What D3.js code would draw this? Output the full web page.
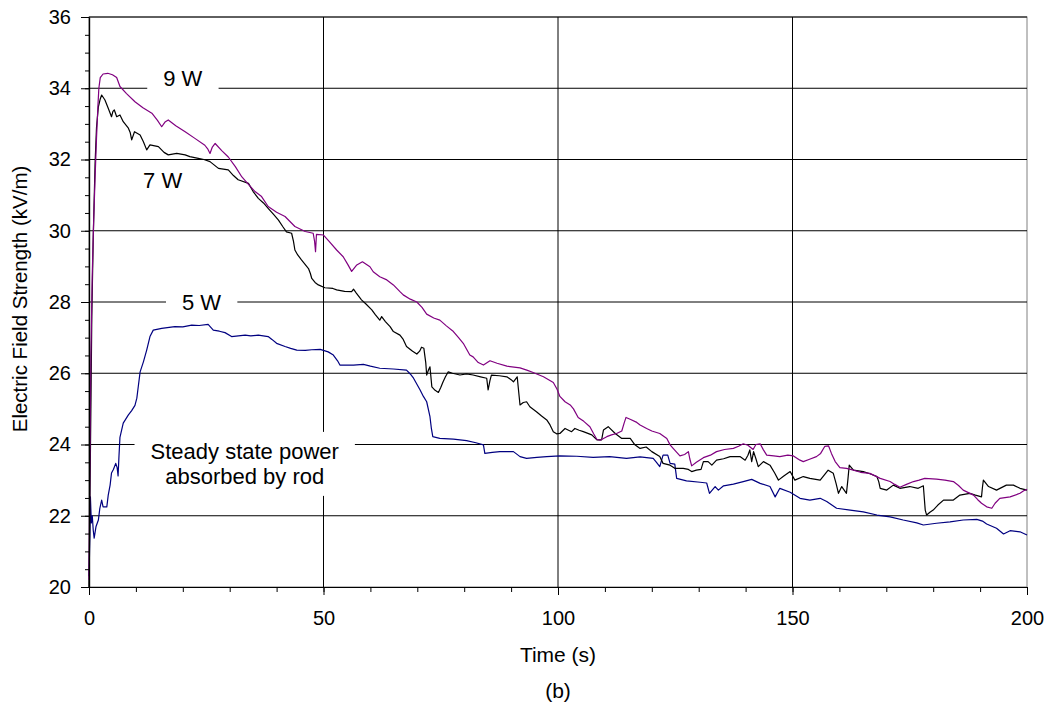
<!DOCTYPE html>
<html><head><meta charset="utf-8">
<script src="https://cdn.jsdelivr.net/npm/d3@7"></script>
<style>
html,body{margin:0;padding:0;background:#fff;}
svg{display:block;font-family:"Liberation Sans",Arial,sans-serif;}
</style></head>
<body>
<svg id="chart" width="1052" height="708"></svg>
<script>
// ---------------- data ----------------
const xTicks = [0, 50, 100, 150, 200];
const xMinor = d3.range(0, 201, 10);
const yTicks = [20, 22, 24, 26, 28, 30, 32, 34, 36];
const yMinor = d3.range(20, 36.01, 0.5);
const xGrid = [50, 100, 150];
const yGrid = [22, 24, 26, 28, 30, 32, 34, 36];

const series9W = [[0,20.2],[0.2,23.5],[0.4,26.5],[0.7,28.8],[1.0,30.3],[1.3,31.5],[1.6,32.6],[1.9,33.5],[2.1,34.0],[2.4,34.3],[3.0,34.4],[4.0,34.42],[5.0,34.38],[5.9,34.3],[6.6,34.05],[8.0,33.85],[9.8,33.62],[11.5,33.45],[13.4,33.3],[14.6,33.1],[15.5,32.92],[16.2,33.05],[16.9,33.11],[18.5,32.95],[20.5,32.78],[22.5,32.6],[24.7,32.4],[25.3,32.3],[25.8,32.17],[26.3,32.35],[26.9,32.45],[28.3,32.25],[29.7,32.07],[31.2,31.8],[32.6,31.51],[34.0,31.3],[35.4,31.1],[36.8,30.96],[38.2,30.68],[40.0,30.52],[41.8,30.4],[43.9,30.12],[46.1,29.98],[47.8,29.93],[48.1,29.7],[48.3,29.41],[48.5,29.9],[50.0,29.88],[51.2,29.7],[52.8,29.46],[54.2,29.27],[55.2,29.05],[56.0,28.86],[57.1,29.04],[58.3,29.13],[59.9,28.99],[60.6,28.85],[62.0,28.71],[63.5,28.62],[64.9,28.48],[66.3,28.29],[67.0,28.2],[68.5,28.08],[69.9,28.0],[71.0,27.85],[72.0,27.66],[73.5,27.55],[74.8,27.49],[76.2,27.33],[77.7,27.17],[78.8,27.0],[79.8,26.84],[81.2,26.51],[81.9,26.46],[83.0,26.3],[84.1,26.23],[85.5,26.35],[87.0,26.28],[89.1,26.2],[91.9,26.15],[93.5,26.08],[94.7,26.02],[96.9,25.9],[98.0,25.82],[99.0,25.74],[99.8,25.55],[100.4,25.35],[101.5,25.2],[102.6,25.11],[103.3,25.0],[104.3,24.76],[105.5,24.65],[106.8,24.5],[107.6,24.3],[108.3,24.14],[109.0,24.12],[110.4,24.22],[111.4,24.27],[112.5,24.31],[113.6,24.38],[114.1,24.6],[114.5,24.76],[115.5,24.7],[116.8,24.62],[117.5,24.55],[118.9,24.45],[120.0,24.38],[121.7,24.31],[123.2,24.17],[123.9,23.99],[124.5,23.9],[126.0,23.68],[127.0,23.72],[127.8,23.8],[128.1,23.6],[128.5,23.4],[129.5,23.5],[131.0,23.63],[132.5,23.7],[133.8,23.8],[135.5,23.86],[137.4,23.89],[138.5,23.95],[139.5,24.02],[140.5,23.98],[141.6,23.86],[142.2,24.0],[143.1,24.02],[143.8,23.85],[144.5,23.7],[146.0,23.68],[147.3,23.66],[149.0,23.7],[150.2,23.68],[151.6,23.56],[152.3,23.52],[153.5,23.58],[155.1,23.66],[156.0,23.75],[156.9,23.95],[157.7,23.96],[158.3,23.75],[159.1,23.52],[160.1,23.35],[161.5,23.33],[163.0,23.28],[164.5,23.22],[166.5,23.19],[168.7,23.05],[170.8,22.96],[171.8,22.88],[172.9,22.8],[174.3,22.88],[175.8,22.96],[177.0,23.0],[178.2,23.05],[180.7,23.03],[182.5,23.0],[184.3,22.96],[185.4,22.85],[186.4,22.72],[187.5,22.65],[188.6,22.58],[189.5,22.45],[190.3,22.35],[191.4,22.25],[192.5,22.21],[193.2,22.35],[194.2,22.49],[196.4,22.53],[198.5,22.63],[199.3,22.7],[200,22.74]];

const series7W = [[0,20.0],[0.2,22.5],[0.4,25.0],[0.6,27.6],[0.9,29.8],[1.3,31.9],[1.6,32.9],[2.0,33.48],[2.4,33.7],[2.7,33.81],[3.4,33.67],[4.1,33.44],[4.8,33.2],[5.1,33.35],[5.4,33.39],[5.9,33.2],[6.6,33.25],[7.3,33.06],[8.4,32.88],[8.8,32.75],[9.1,32.55],[9.7,32.78],[10.9,32.69],[11.6,32.5],[12.3,32.27],[13.0,32.41],[14.8,32.36],[16.0,32.2],[16.9,32.13],[18.7,32.17],[20.5,32.13],[21.5,32.08],[23.3,32.03],[24.5,32.0],[25.8,31.94],[27.6,31.75],[29.7,31.71],[30.8,31.55],[31.8,31.43],[34.0,31.33],[35.0,31.1],[36.1,30.91],[37.2,30.78],[38.2,30.63],[39.4,30.45],[40.4,30.3],[41.3,30.12],[42.1,29.97],[43.2,29.93],[43.6,29.7],[43.9,29.46],[44.5,29.32],[45.3,29.18],[46.8,28.94],[47.2,28.8],[47.5,28.66],[48.2,28.55],[48.9,28.48],[50.3,28.4],[52.0,28.38],[52.8,28.34],[54.5,28.3],[56.0,28.29],[56.4,28.36],[57.0,28.25],[58.1,28.06],[59.0,27.95],[60.3,27.78],[61.0,27.65],[62.0,27.49],[62.4,27.59],[63.2,27.45],[64.2,27.31],[64.9,27.17],[66.3,27.07],[67.0,26.95],[67.7,26.75],[69.0,26.62],[69.9,26.54],[70.5,26.62],[70.9,26.73],[71.4,26.7],[71.8,26.3],[72.0,25.95],[72.4,26.1],[72.7,26.18],[73.1,25.62],[73.8,25.52],[74.5,25.46],[75.0,25.6],[75.5,25.76],[76.0,25.9],[76.6,26.04],[77.5,26.0],[79.1,25.95],[80.5,25.98],[81.9,25.95],[83.5,25.9],[84.8,25.86],[85.1,25.53],[85.5,25.8],[85.8,25.95],[87.5,25.93],[89.1,25.9],[90.0,25.82],[90.5,25.76],[91.3,25.9],[91.6,25.5],[91.9,25.11],[92.6,25.18],[93.3,25.2],[94.0,25.06],[95.4,24.92],[96.5,24.8],[97.6,24.69],[98.3,24.55],[99.0,24.36],[99.7,24.3],[100.4,24.31],[101.5,24.45],[102.9,24.36],[103.6,24.45],[104.5,24.4],[105.4,24.36],[107.2,24.27],[108.3,24.13],[109.3,24.13],[109.7,24.41],[110.7,24.5],[112.2,24.31],[113.6,24.17],[115.4,24.17],[116.4,23.99],[117.5,23.89],[118.8,23.93],[120.0,23.8],[121.7,23.66],[122.4,23.47],[123.9,23.42],[124.9,23.33],[126.7,23.33],[127.8,23.3],[128.5,23.24],[129.5,23.28],[130.5,23.3],[131.0,23.52],[132.0,23.52],[132.8,23.42],[133.8,23.56],[135.3,23.6],[136.7,23.66],[138.8,23.66],[139.9,23.56],[140.5,23.7],[140.9,23.85],[141.3,23.52],[141.7,23.8],[142.2,23.6],[142.7,23.38],[143.8,23.52],[145.2,23.42],[146.2,23.2],[147.0,23.0],[148.0,23.1],[149.5,23.24],[150.5,23.0],[152.3,23.1],[153.7,23.05],[155.9,23.0],[156.8,23.15],[157.6,23.28],[158.7,23.19],[159.3,22.9],[159.8,22.63],[160.5,22.82],[161.5,22.63],[161.8,23.0],[162.1,23.42],[163.0,23.28],[165.1,23.24],[166.5,23.18],[168.0,23.1],[168.4,22.95],[168.7,22.77],[170.1,22.72],[171.5,22.86],[172.9,22.77],[175.0,22.82],[176.8,22.77],[177.9,22.84],[178.1,22.5],[178.3,22.16],[178.6,22.02],[179.3,22.1],[180.0,22.16],[181.0,22.3],[182.2,22.44],[184.3,22.44],[185.7,22.58],[187.8,22.63],[189.0,22.58],[190.3,22.53],[190.5,22.8],[190.7,23.0],[191.8,22.82],[193.5,22.72],[195.6,22.86],[197.1,22.86],[198.5,22.77],[200,22.72]];

const series5W = [[0,20.3],[0.2,21.5],[0.3,22.53],[0.5,21.8],[0.7,22.0],[0.9,21.6],[1.1,21.37],[1.5,21.7],[2.0,21.88],[2.3,22.2],[2.7,22.44],[3.0,22.25],[3.8,22.25],[4.1,22.58],[4.5,22.86],[4.8,23.2],[5.2,23.3],[5.7,23.47],[6.0,23.35],[6.2,23.12],[6.4,23.7],[6.6,24.2],[7.3,24.6],[8.4,24.83],[9.1,24.95],[9.8,25.1],[10.2,25.3],[10.5,25.62],[10.9,26.04],[11.6,26.32],[12.3,26.65],[13.0,27.03],[13.7,27.21],[15.5,27.26],[18.3,27.31],[20.0,27.3],[21.9,27.35],[23.5,27.34],[25.4,27.37],[26.5,27.21],[27.8,27.18],[29.0,27.14],[30.4,27.03],[33.3,27.07],[34.5,27.05],[36.1,27.07],[38.2,27.03],[39.0,26.95],[40.0,26.84],[41.8,26.75],[43.0,26.7],[44.3,26.65],[46.1,26.64],[47.5,26.66],[49.3,26.67],[51.0,26.6],[52.1,26.51],[53.0,26.35],[53.5,26.23],[56.4,26.23],[58.5,26.25],[60.0,26.2],[62.0,26.14],[64.9,26.12],[67.7,26.09],[68.5,25.98],[69.2,25.86],[70.6,25.53],[71.3,25.35],[72.0,25.2],[72.7,24.78],[73.0,24.45],[73.3,24.22],[74.8,24.17],[77.7,24.15],[80.5,24.11],[82.5,24.05],[84.1,23.99],[84.4,23.75],[86.0,23.78],[87.6,23.8],[90.5,23.8],[91.9,23.66],[93.3,23.61],[95.5,23.64],[97.6,23.66],[100.4,23.68],[104.0,23.67],[107.5,23.64],[111.0,23.66],[114.6,23.61],[117.5,23.65],[120.3,23.61],[121.0,23.5],[121.7,23.38],[122.4,23.7],[123.4,23.7],[123.9,23.47],[124.9,23.45],[125.3,23.05],[127.4,22.98],[130.3,22.94],[131.7,22.92],[132.3,22.63],[133.5,22.82],[134.2,22.72],[135.3,22.84],[137.4,22.89],[139.5,22.96],[141.3,23.02],[143.1,22.91],[145.2,22.82],[146.3,22.53],[147.3,22.77],[149.5,22.66],[151.6,22.49],[153.7,22.44],[155.9,22.49],[157.3,22.4],[159.4,22.21],[162.3,22.16],[165.1,22.11],[168.0,22.02],[170.8,21.97],[173.6,21.88],[176.5,21.8],[177.9,21.74],[180.7,21.79],[183.6,21.83],[186.4,21.88],[189.3,21.9],[190.5,21.85],[191.4,21.77],[193.5,21.65],[195.0,21.49],[196.4,21.58],[198.5,21.55],[200,21.46]];

const seriesList = [
  {name: "5 W", data: series5W, color: "#000080"},
  {name: "7 W", data: series7W, color: "#000000"},
  {name: "9 W", data: series9W, color: "#800080"}
];

const labels = [
  {text: ["9 W"], t: 20.0, v: 34.29, box: true},
  {text: ["7 W"], t: 15.7, v: 31.42, box: false},
  {text: ["5 W"], t: 24.0, v: 28, box: true},
  {text: ["Steady state power", "absorbed by rod"], t: 33.2, v: 23.47, box: true}
];

// ---------------- chart ----------------
(function () {
const svg = d3.select("#chart");
const pL = 89, pR = 1027, pT = 17, pB = 587;
const x = d3.scaleLinear().domain([0, 200]).range([pL, pR]);
const y = d3.scaleLinear().domain([20, 36]).range([pB, pT]);
const font = '"Liberation Sans", Arial, sans-serif';

svg.append("rect").attr("x", pL).attr("y", pT)
  .attr("width", pR - pL).attr("height", pB - pT)
  .attr("fill", "none").attr("stroke", "#808080").attr("stroke-width", 1);

svg.append("g").selectAll("line").data(yGrid).join("line")
  .attr("x1", pL).attr("x2", pR)
  .attr("y1", d => y(d)).attr("y2", d => y(d))
  .attr("stroke", "#000").attr("stroke-width", 1);
svg.append("g").selectAll("line").data(xGrid).join("line")
  .attr("x1", d => x(d)).attr("x2", d => x(d))
  .attr("y1", pT).attr("y2", pB)
  .attr("stroke", "#000").attr("stroke-width", 1);

const line = d3.line().x(d => x(d[0])).y(d => y(d[1]));
svg.append("g").selectAll("path").data(seriesList).join("path")
  .attr("d", d => line(d.data))
  .attr("fill", "none")
  .attr("stroke", d => d.color)
  .attr("stroke-width", 1.2)
  .attr("stroke-linejoin", "round");

const yAxis = svg.append("g").attr("transform", `translate(${pL},0)`)
  .call(d3.axisLeft(y).tickValues(yTicks).tickSize(8).tickSizeOuter(0).tickPadding(10));
const yAxisMinor = svg.append("g").attr("transform", `translate(${pL},0)`)
  .call(d3.axisLeft(y).tickValues(yMinor).tickSize(4).tickSizeOuter(0).tickFormat(""));
const xAxis = svg.append("g").attr("transform", `translate(0,${pB})`)
  .call(d3.axisBottom(x).tickValues(xTicks).tickSize(8).tickSizeOuter(0).tickPadding(16));
const xAxisMinor = svg.append("g").attr("transform", `translate(0,${pB})`)
  .call(d3.axisBottom(x).tickValues(xMinor).tickSize(5).tickSizeOuter(0).tickFormat(""));

[yAxis, yAxisMinor, xAxis, xAxisMinor].forEach(g => {
  g.selectAll("path.domain").attr("stroke", "#000").attr("stroke-width", 1.2);
  g.selectAll(".tick line").attr("stroke", "#000").attr("stroke-width", 1);
  g.selectAll(".tick text").attr("font-family", font).attr("font-size", 20).attr("fill", "#000");
});

svg.append("text").attr("x", (pL + pR) / 2).attr("y", 662)
  .attr("text-anchor", "middle").attr("font-family", font).attr("font-size", 21)
  .text("Time (s)");
svg.append("text").attr("x", (pL + pR) / 2).attr("y", 698)
  .attr("text-anchor", "middle").attr("font-family", font).attr("font-size", 21)
  .text("(b)");
svg.append("text")
  .attr("transform", `translate(27,${(163 + 435) / 2}) rotate(-90)`)
  .attr("text-anchor", "middle").attr("font-family", font).attr("font-size", 20.5)
  .text("Electric Field Strength (kV/m)");

const lblG = svg.append("g");
labels.forEach(l => {
  const cx = x(l.t), cy = y(l.v);
  const g = lblG.append("g");
  const lh = 25;
  const n = l.text.length;
  const txt = g.append("text").attr("text-anchor", "middle")
    .attr("font-family", font).attr("font-size", 22);
  l.text.forEach((s, i) => {
    txt.append("tspan").attr("x", cx)
      .attr("y", cy + 8 + (i - (n - 1) / 2) * lh)
      .text(s);
  });
  if (l.box) {
    const bb = txt.node().getBBox();
    const padX = n > 1 ? 16 : 16, padY = n > 1 ? 7 : 3;
    g.insert("rect", "text")
      .attr("x", bb.x - padX).attr("y", bb.y - padY)
      .attr("width", bb.width + 2 * padX).attr("height", bb.height + 2 * padY)
      .attr("fill", "#fff");
  }
});
})();
</script>
</body></html>
